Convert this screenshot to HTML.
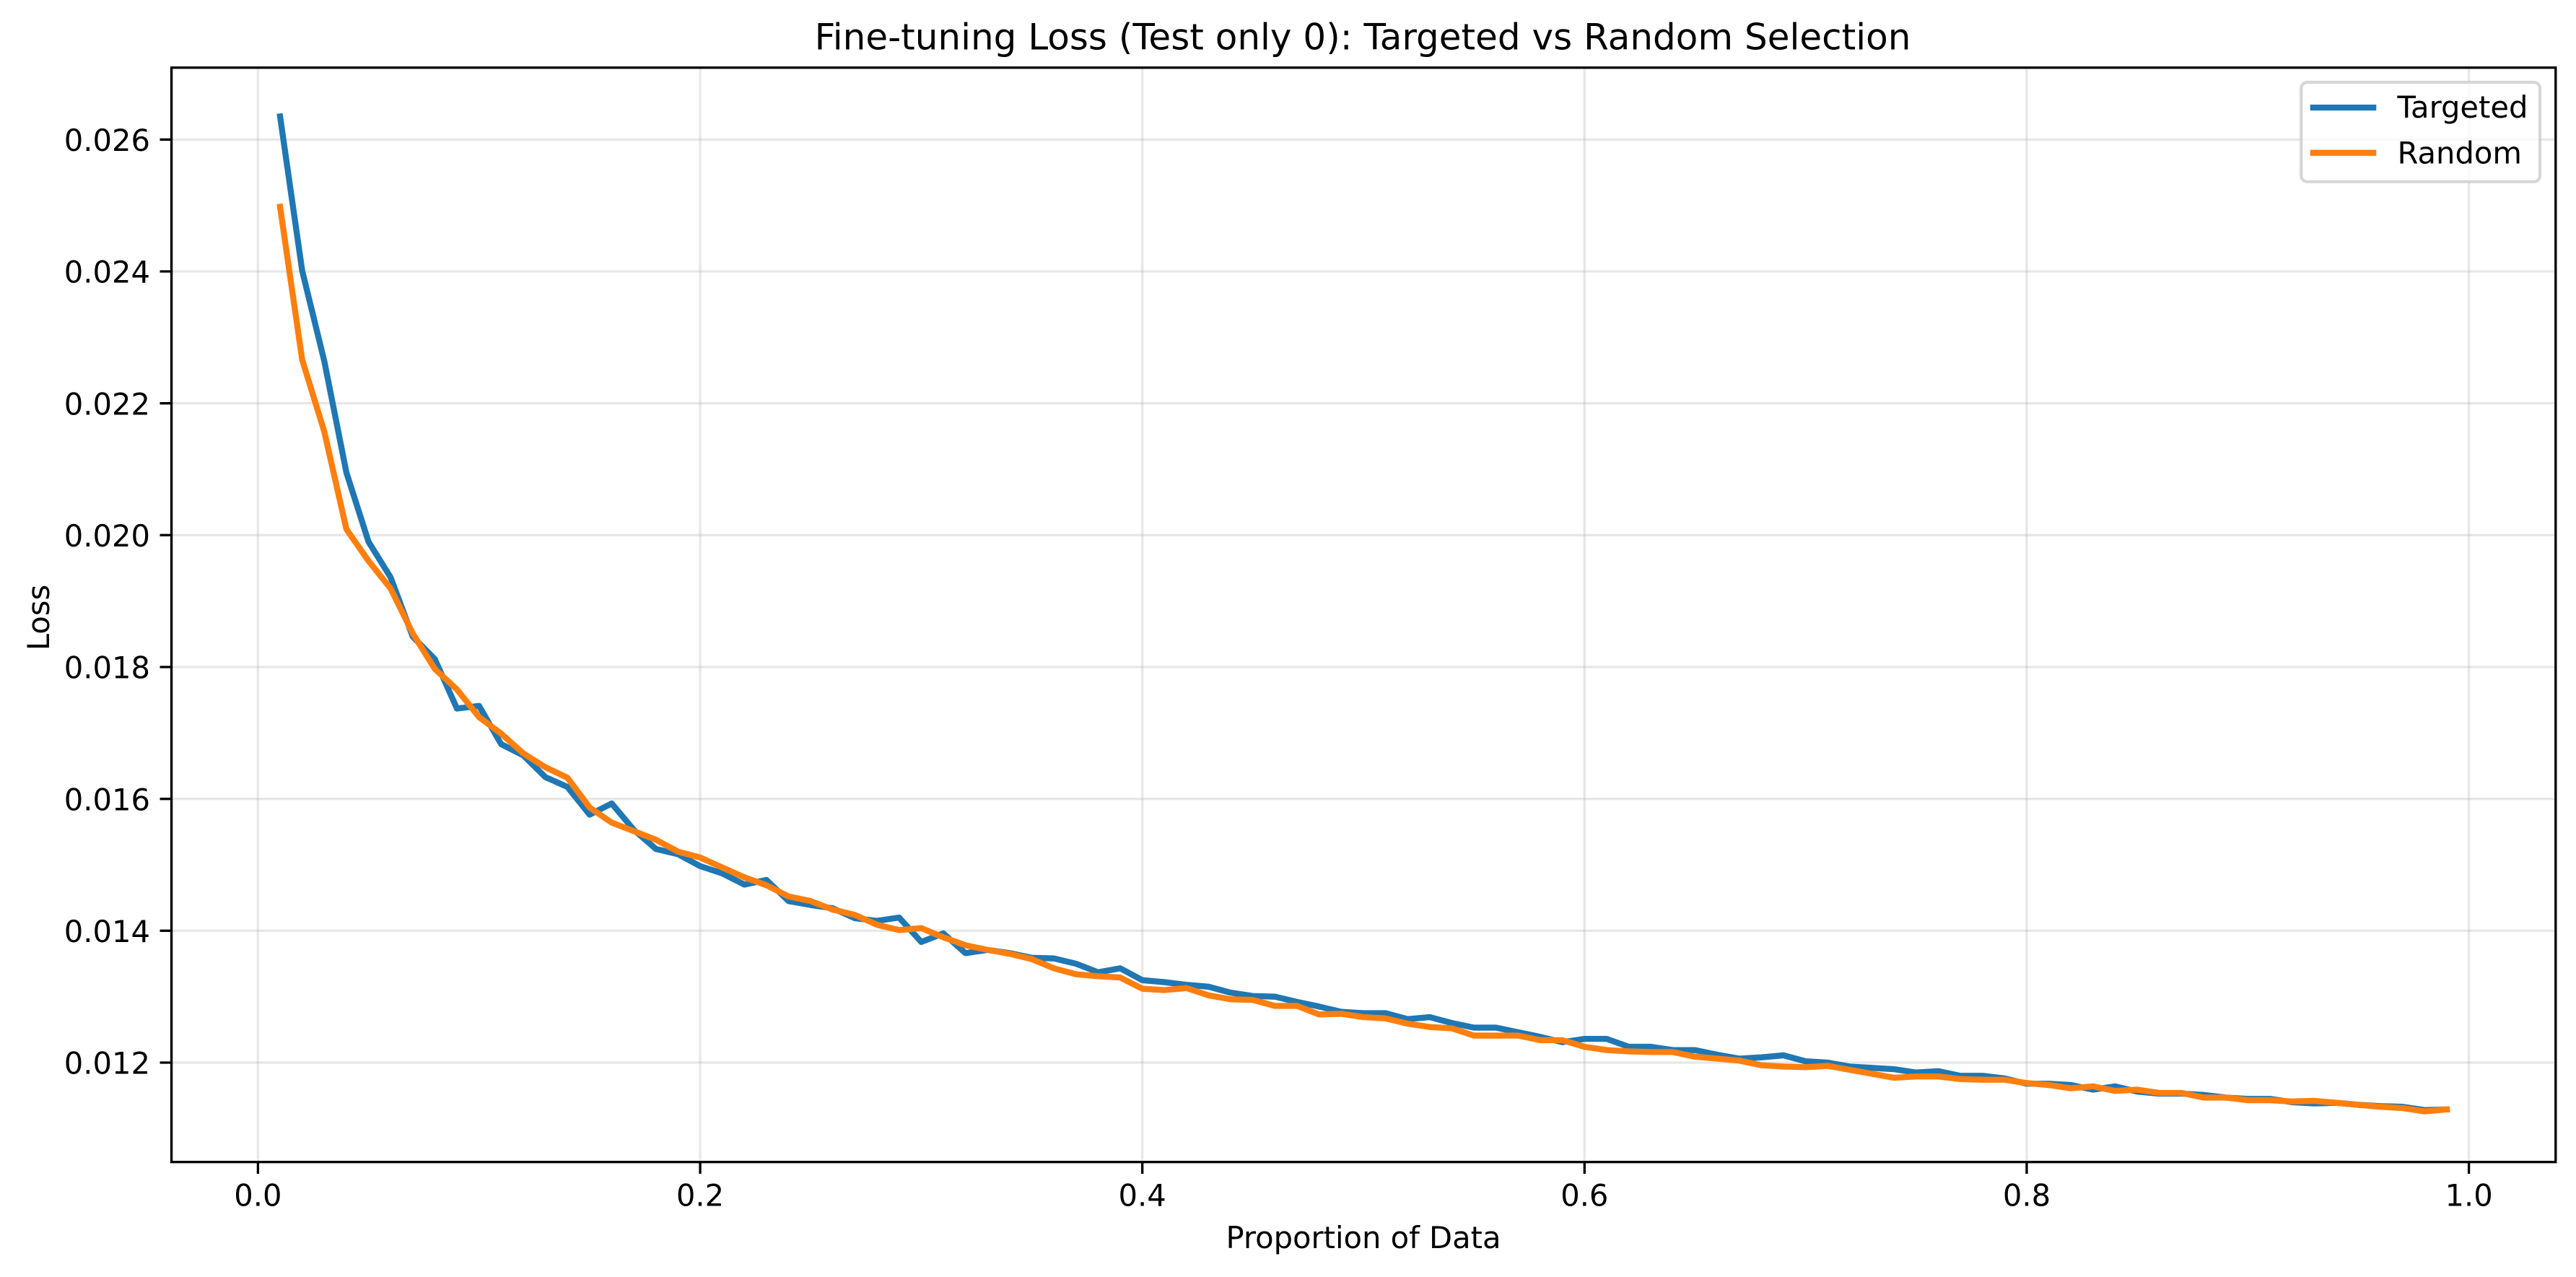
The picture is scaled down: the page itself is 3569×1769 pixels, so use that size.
<!DOCTYPE html>
<html lang="en">
<head>
<meta charset="utf-8">
<title>Fine-tuning Loss (Test only 0): Targeted vs Random Selection</title>
<style>
html,body{margin:0;padding:0;background:#fff;width:3569px;height:1769px;overflow:hidden}
svg{display:block}
text{font-family:"DejaVu Sans","Liberation Sans",sans-serif;fill:#000}
</style>
</head>
<body>
<svg id="chart" xmlns="http://www.w3.org/2000/svg" width="3569" height="1769" viewBox="0 0 3569 1769">
  <rect x="0" y="0" width="3569" height="1769" fill="#fff"/>
  <g id="grid"></g>
  <g id="series"></g>
  <g id="ticks"></g>
  <rect x="237.6" y="93.7" width="3303.2" height="1516" fill="none" stroke="#000" stroke-width="3.33"/>
  <text x="1888" y="68.5" font-size="50" text-anchor="middle">Fine-tuning Loss (Test only 0): Targeted vs Random Selection</text>
  <text x="1889" y="1729" font-size="41.67" text-anchor="middle">Proportion of Data</text>
  <text transform="translate(68 855.5) rotate(-90)" x="0" y="0" font-size="41.67" text-anchor="middle">Loss</text>
  <g>
    <rect x="3188.3" y="114" width="330.7" height="137.7" rx="8.3" ry="8.3" fill="#fff" fill-opacity="0.8" stroke="#ccc" stroke-opacity="0.8" stroke-width="4.17"/>
    <line x1="3200.7" y1="149" x2="3292.3" y2="149" stroke="#1f77b4" stroke-width="8.33"/>
    <text x="3321.5" y="163" font-size="41.67">Targeted</text>
    <line x1="3200.7" y1="211.7" x2="3292.3" y2="211.7" stroke="#ff7f0e" stroke-width="8.33"/>
    <text x="3321.5" y="226.5" font-size="41.67">Random</text>
  </g>
</svg>
<script>
const proportions = [0.01,0.02,0.03,0.04,0.05,0.06,0.07,0.08,0.09,0.10,0.11,0.12,0.13,0.14,0.15,0.16,0.17,0.18,0.19,0.20,0.21,0.22,0.23,0.24,0.25,0.26,0.27,0.28,0.29,0.30,0.31,0.32,0.33,0.34,0.35,0.36,0.37,0.38,0.39,0.40,0.41,0.42,0.43,0.44,0.45,0.46,0.47,0.48,0.49,0.50,0.51,0.52,0.53,0.54,0.55,0.56,0.57,0.58,0.59,0.60,0.61,0.62,0.63,0.64,0.65,0.66,0.67,0.68,0.69,0.70,0.71,0.72,0.73,0.74,0.75,0.76,0.77,0.78,0.79,0.80,0.81,0.82,0.83,0.84,0.85,0.86,0.87,0.88,0.89,0.90,0.91,0.92,0.93,0.94,0.95,0.96,0.97,0.98,0.99];
const targetedLoss = [0.02635,0.02401,0.02264,0.02095,0.01990,0.01936,0.01846,0.01812,0.01737,0.01741,0.01683,0.01666,0.01633,0.01618,0.01576,0.01593,0.01553,0.01524,0.01516,0.01498,0.01487,0.01470,0.01477,0.01445,0.01439,0.01434,0.01419,0.01415,0.01420,0.01383,0.01396,0.01366,0.01371,0.01366,0.01359,0.01358,0.01350,0.01337,0.01343,0.01325,0.01322,0.01318,0.01315,0.01306,0.01301,0.01300,0.01292,0.01285,0.01277,0.01275,0.01275,0.01266,0.01269,0.01260,0.01253,0.01253,0.01246,0.01239,0.01231,0.01236,0.01236,0.01224,0.01224,0.01219,0.01219,0.01212,0.01206,0.01208,0.01211,0.01202,0.01200,0.01194,0.01192,0.01190,0.01185,0.01187,0.01180,0.01180,0.01176,0.01168,0.01168,0.01166,0.01159,0.01164,0.01156,0.01153,0.01153,0.01151,0.01147,0.01145,0.01145,0.01140,0.01138,0.01139,0.01136,0.01134,0.01133,0.01128,0.01129];
const randomLoss = [0.02498,0.02266,0.02157,0.02009,0.01961,0.01919,0.01851,0.01797,0.01766,0.01724,0.01699,0.01669,0.01648,0.01632,0.01587,0.01564,0.01551,0.01538,0.01520,0.01511,0.01496,0.01481,0.01469,0.01452,0.01445,0.01432,0.01424,0.01409,0.01401,0.01404,0.01390,0.01378,0.01371,0.01365,0.01357,0.01343,0.01334,0.01331,0.01329,0.01312,0.01310,0.01313,0.01302,0.01296,0.01295,0.01286,0.01286,0.01273,0.01274,0.01269,0.01267,0.01259,0.01254,0.01252,0.01241,0.01241,0.01241,0.01234,0.01234,0.01224,0.01219,0.01217,0.01216,0.01216,0.01209,0.01206,0.01203,0.01196,0.01194,0.01193,0.01195,0.01189,0.01183,0.01177,0.01179,0.01179,0.01175,0.01174,0.01174,0.01169,0.01166,0.01161,0.01164,0.01157,0.01159,0.01154,0.01154,0.01147,0.01147,0.01143,0.01143,0.01141,0.01142,0.01139,0.01136,0.01133,0.01131,0.01126,0.01129];
const xTickValues = [0,0.2,0.4,0.6,0.8,1.0];
const xTickLabels = ["0.0","0.2","0.4","0.6","0.8","1.0"];
const yTickValues = [0.012,0.014,0.016,0.018,0.020,0.022,0.024,0.026];
const yTickLabels = ["0.012","0.014","0.016","0.018","0.020","0.022","0.024","0.026"];

const NS = "http://www.w3.org/2000/svg";
function xScale(v){ return 357.4 + v * 3063.2; }
function yScale(v){ return 1472 - (v - 0.012) * 91335; }
function make(tag, attrs, parent){
  const el = document.createElementNS(NS, tag);
  for (const k in attrs) el.setAttribute(k, attrs[k]);
  parent.appendChild(el);
  return el;
}
const gridGroup = document.getElementById("grid");
const tickGroup = document.getElementById("ticks");
const seriesGroup = document.getElementById("series");

xTickValues.forEach(function(v, i){
  const x = xScale(v);
  const g = make("line", {x1:x, x2:x, y1:93.7, y2:1609.7, stroke:"#b0b0b0", "stroke-opacity":0.3, "stroke-width":3.33}, gridGroup);
  
  
  const t = make("line", {x1:x, x2:x, y1:1609.7, y2:1626, stroke:"#000", "stroke-width":3.33}, tickGroup);
  
  
  const l = make("text", {x:x, y:1670.5, "font-size":41.67, "text-anchor":"middle"}, tickGroup);
  l.textContent = xTickLabels[i];
  
  
});
yTickValues.forEach(function(v, i){
  const y = yScale(v);
  const g = make("line", {x1:237.6, x2:3540.8, y1:y, y2:y, stroke:"#b0b0b0", "stroke-opacity":0.3, "stroke-width":3.33}, gridGroup);
  
  
  const t = make("line", {x1:221.5, x2:237.6, y1:y, y2:y, stroke:"#000", "stroke-width":3.33}, tickGroup);
  
  
  const l = make("text", {x:208, y:y + 15.6, "font-size":41.67, "text-anchor":"end"}, tickGroup);
  l.textContent = yTickLabels[i];
  
  
});
function pointsFor(values){
  return values.map(function(v, i){ return xScale(proportions[i]).toFixed(2) + "," + yScale(v).toFixed(2); }).join(" ");
}
const targetedLine = make("polyline", {points:pointsFor(targetedLoss), fill:"none", stroke:"#1f77b4", "stroke-width":8.33, "stroke-linejoin":"round", "stroke-linecap":"square"}, seriesGroup);


const randomLine = make("polyline", {points:pointsFor(randomLoss), fill:"none", stroke:"#ff7f0e", "stroke-width":8.33, "stroke-linejoin":"round", "stroke-linecap":"square"}, seriesGroup);


</script>
</body>
</html>
